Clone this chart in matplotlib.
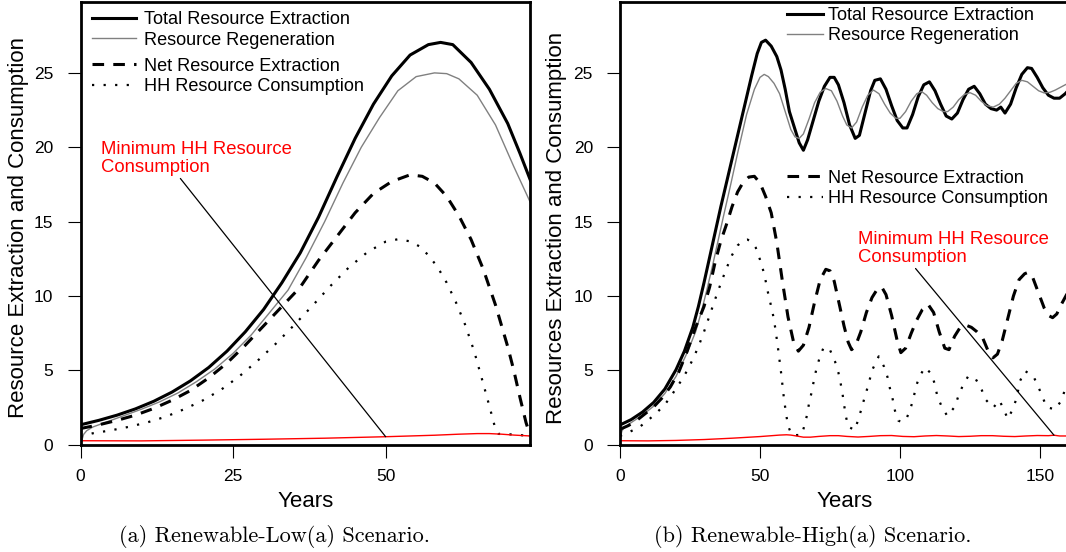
import matplotlib
matplotlib.use("Agg")
import matplotlib.pyplot as plt

# ==========================================================
# Data : Renewable-Low(a) scenario
# ==========================================================

low_total_x = [0, 3, 6, 9, 12, 15, 18, 21, 24, 27, 30, 33, 36, 39, 42, 45, 48, 51, 54, 57, 59, 61, 64, 67, 70, 72, 73.7]
low_total_y = [1.35, 1.65, 2.0, 2.42, 2.93, 3.55, 4.3, 5.2, 6.3, 7.6, 9.1, 10.9, 12.9, 15.3, 18.0, 20.6, 22.9, 24.8, 26.2, 26.9, 27.05, 26.9, 25.7, 23.9, 21.6, 19.6, 17.8]

low_regen_x = [0, 0.5, 1, 2, 4, 7, 10, 13, 16, 19, 22, 25, 28, 31, 34, 37, 40, 43, 46, 49, 52, 55, 58, 60, 62, 65, 68, 71, 73.7]
low_regen_y = [0.0, 0.7, 0.95, 1.2, 1.5, 1.95, 2.4, 2.9, 3.5, 4.25, 5.1, 6.15, 7.4, 8.9, 10.4, 12.6, 15.0, 17.6, 20.0, 22.0, 23.8, 24.75, 25.0, 24.95, 24.6, 23.5, 21.5, 18.7, 16.3]

low_net_x = [0, 3, 6, 9, 12, 15, 18, 21, 24, 27, 30, 33, 36, 39, 42, 45, 48, 51, 54, 56, 58, 60, 62, 64, 66, 68, 70, 71, 72, 73, 73.7]
low_net_y = [1.1, 1.35, 1.65, 2.0, 2.45, 3.0, 3.65, 4.5, 5.5, 6.7, 8.0, 9.3, 10.6, 12.4, 14.0, 15.6, 16.9, 17.7, 18.15, 18.05, 17.6, 16.7, 15.4, 13.8, 11.8, 9.4, 6.6, 5.0, 3.2, 1.5, 0.6]

low_hh_x = [0, 2, 5, 8, 11, 14, 17, 20, 23, 26, 29, 32, 35, 38, 41, 44, 47, 50, 52, 54, 55.5, 57, 58.5, 60, 61.5, 63, 64.5, 66, 67, 68, 68.5, 70, 72, 73.7]
low_hh_y = [0.55, 0.78, 0.98, 1.22, 1.52, 1.9, 2.4, 2.98, 3.7, 4.6, 5.65, 6.8, 8.05, 9.35, 10.7, 11.94, 12.95, 13.66, 13.82, 13.68, 13.35, 12.75, 11.95, 10.9, 9.6, 8.1, 6.3, 4.1, 2.6, 1.05, 0.74, 0.72, 0.66, 0.6]

low_min_x = [0, 10, 20, 30, 40, 50, 58, 62, 65, 67, 69, 71, 73.7]
low_min_y = [0.28, 0.27, 0.32, 0.38, 0.45, 0.55, 0.65, 0.72, 0.76, 0.76, 0.72, 0.66, 0.6]

# ==========================================================
# Data : Renewable-High(a) scenario
# ==========================================================

high_total_x = [0, 4, 8, 12, 16, 20, 23, 26, 28, 30, 32, 34, 36, 38, 41, 44, 47, 49, 50.5, 52, 54, 56, 57.5, 59, 60.5, 62, 64, 65.5,
                67, 69, 71, 73, 75, 76.5, 78, 80, 82, 84, 85.5, 87.5, 89.5, 91, 93, 95, 97, 99, 101, 102.5, 104.5, 106.5,
                108.5, 110.5, 112.5, 114.5, 116.5, 118.5, 120.5, 122.5, 124.5, 126.5, 128.5, 130.5, 132.5, 134.5, 136,
                137.5, 139.5, 141.5, 143.5, 145.5, 147, 149, 151, 153, 155, 157, 159, 161]
high_total_y = [1.34, 1.7, 2.2, 2.85, 3.75, 5.05, 6.3, 7.9, 9.3, 10.9, 12.6, 14.3, 16.0, 17.6, 20.0, 22.4, 24.8, 26.3, 27.05, 27.2,
                26.8, 26.1, 25.2, 23.9, 22.4, 21.5, 20.3, 19.8, 20.5, 21.8, 23.1, 24.1, 24.7, 24.7, 24.2, 23.0, 21.5, 20.6,
                20.8, 22.3, 23.8, 24.5, 24.6, 23.9, 22.8, 21.8, 21.3, 21.3, 22.2, 23.4, 24.2, 24.4, 23.8, 22.9, 22.1, 21.9,
                22.3, 23.2, 23.9, 24.1, 23.6, 22.9, 22.6, 22.5, 22.7, 22.3, 22.9, 24.0, 24.9, 25.35, 25.3, 24.7, 24.0, 23.5,
                23.3, 23.3, 23.6, 24.0]

high_regen_x = [0, 0.6, 1.2, 4, 8, 12, 16, 20, 24, 27, 29, 31, 33, 35, 37, 39.3, 42, 45.2, 48, 50, 51.5, 53, 55, 57, 59, 61,
                62.5, 64, 65.5, 67.5, 69.5, 71.5, 73.5, 75.5, 77.5, 79.5, 81, 82.7, 84.5, 86.5, 88.5, 90.5, 92.5, 94.5,
                96.5, 98.5, 100, 102, 104, 106, 107.7, 109.5, 111.5, 113.5, 115.5, 117, 119, 121, 123, 125, 127, 129,
                131, 133.3, 135.5, 137.5, 139.5, 141.5, 143.5, 145.5, 147.5, 149.5, 151.5, 153.6, 155.5, 157.5, 159.5, 161]
high_regen_y = [0.2, 0.9, 1.1, 1.5, 2.0, 2.6, 3.45, 4.6, 6.2, 7.6, 8.9, 10.4, 12.0, 13.7, 15.4, 17.3, 19.6, 22.2, 23.9, 24.7,
                24.9, 24.75, 24.3, 23.6, 22.4, 21.2, 20.7, 20.6, 20.9, 21.9, 23.0, 23.7, 23.95, 23.8, 23.1, 22.1, 21.5,
                21.3, 21.7, 22.7, 23.5, 23.85, 23.6, 22.9, 22.3, 21.95, 21.95, 22.4, 23.1, 23.6, 23.75, 23.5, 23.0, 22.6,
                22.4, 22.4, 22.7, 23.2, 23.55, 23.67, 23.5, 23.1, 22.8, 22.7, 22.9, 23.3, 23.8, 24.3, 24.5, 24.4, 24.1,
                23.8, 23.65, 23.7, 23.85, 24.05, 24.25, 24.4]

high_net_x = [0, 3, 6, 9, 12, 15, 18, 21, 24, 27, 30, 32, 34, 36, 38, 40, 42, 44, 46, 48, 50, 52, 54, 56, 58, 60, 62, 63.7,
              65.5, 67.5, 69.5, 71.5, 73.5, 75, 76.5, 78.5, 80, 81.5, 82.7, 84, 86, 88, 90, 92, 93.5, 95, 97, 99, 100.3,
              102, 104, 106, 108, 110, 112, 114, 116, 117.5, 119.5, 121.5, 123.5, 125.5, 127.5, 129.5, 131.5, 133.2,
              134.8, 136.5, 138.5, 140.5, 142.5, 144.5, 145.8, 147.5, 149.5, 151.5, 153, 154.5, 156, 157.5, 159.5, 161]
high_net_y = [1.05, 1.3, 1.65, 2.1, 2.55, 3.15, 3.9, 4.9, 6.3, 7.9, 9.3, 10.6, 12.3, 13.7, 14.8, 16.0, 17.0, 17.65, 18.0, 18.05,
              17.6, 16.7, 15.6, 13.6, 11.0, 8.6, 6.9, 6.3, 6.7, 7.9, 9.6, 11.1, 11.8, 11.7, 11.0, 9.3, 8.0, 6.9, 6.4, 6.6,
              7.6, 8.9, 9.9, 10.5, 10.6, 10.1, 8.7, 7.0, 6.2, 6.5, 7.5, 8.4, 9.1, 9.45, 8.9, 7.6, 6.5, 6.4, 7.3, 7.9, 8.05,
              7.9, 7.6, 7.2, 6.3, 5.85, 6.1, 7.0, 8.5, 10.0, 11.1, 11.5, 11.6, 11.2, 10.2, 9.2, 8.7, 8.55, 8.8, 9.4, 10.1,
              10.6]

high_hh_x = [0, 3.6, 7.1, 10.1, 13.1, 16.1, 18.5, 20, 22, 24, 26, 28, 30, 32, 34, 36, 38, 40, 42, 44, 45.5, 47, 48.5, 50,
             51.5, 53, 54.5, 55.5, 56.5, 57.5, 58.5, 59.3, 60, 61.3, 63, 64.9, 66.1, 66.9, 67.6, 68.5, 69.3, 70.2, 71.4,
             72.6, 73.5, 75, 76.8, 78, 78.8, 79.5, 80.1, 80.7, 81.5, 83.9, 85.1, 86.3, 87.5, 88.7, 90, 92.4, 94.3, 95.5,
             96.4, 97.4, 98.2, 99.4, 100.5, 102.1, 103.6, 104.8, 105.7, 106.9, 108.9, 111.3, 112.5, 113.3, 114.9, 116.9,
             119.6, 120.7, 122.4, 124.4, 127.1, 129.2, 130.7, 133.3, 135.5, 137, 138.5, 140, 141.5, 142.9, 144.6, 147.6,
             149.4, 152.4, 155.4, 157.8, 159, 161]
high_hh_y = [0.6, 0.89, 1.22, 1.67, 2.16, 2.73, 3.35, 3.8, 4.35, 5.0, 5.75, 6.6, 7.6, 8.7, 9.8, 10.85, 11.85, 12.75, 13.4,
             13.75, 13.8, 13.65, 13.25, 12.45, 11.5, 10.1, 8.9, 7.8, 6.4, 4.9, 3.2, 2.1, 1.3, 0.67, 0.66, 0.67, 1.45, 2.1,
             2.9, 3.58, 4.4, 5.15, 5.93, 6.49, 6.6, 6.38, 5.6, 4.86, 4.14, 3.4, 2.61, 1.9, 1.22, 1.0, 1.72, 2.46, 3.29,
             4.03, 5.0, 5.95, 5.26, 4.58, 3.8, 3.06, 2.3, 1.63, 1.55, 1.67, 2.35, 3.13, 3.91, 4.58, 5.21, 4.76, 4.03,
             3.29, 2.57, 1.94, 2.57, 3.2, 3.98, 4.63, 4.41, 3.69, 3.02, 2.5, 3.0, 2.4, 1.75, 2.3, 3.05, 4.31, 4.97, 4.63,
             3.91, 2.53, 2.39, 3.02, 3.8, 4.5]

high_min_x = [0, 10, 20, 30, 40, 50, 57, 59.5, 61, 63, 65.5, 68, 71, 75, 78, 81, 85, 89, 93, 97, 101, 105, 109, 113, 117,
              121, 125, 129, 133, 137, 141, 145, 149, 153, 155, 157, 161]
high_min_y = [0.28, 0.27, 0.3, 0.36, 0.45, 0.56, 0.66, 0.68, 0.66, 0.6, 0.52, 0.52, 0.57, 0.62, 0.62, 0.57, 0.53, 0.57, 0.62,
              0.63, 0.57, 0.55, 0.6, 0.63, 0.6, 0.56, 0.58, 0.62, 0.62, 0.58, 0.56, 0.6, 0.63, 0.62, 0.65, 0.6, 0.6]

# ==========================================================
# Labels
# ==========================================================

legend_top = ["Total Resource Extraction", "Resource Regeneration"]
legend_bottom = ["Net Resource Extraction", "HH Resource Consumption"]
min_label = "Minimum HH Resource\nConsumption"

plt.rcParams["font.family"] = ["Liberation Sans", "DejaVu Sans"]

W, H = 1066, 552
fig = plt.figure(figsize=(W / 100, H / 100), dpi=100)

Y_BOTTOM = 444.9
Y_TOP = 1.7
PX_PER_UNIT_Y = 14.88


def make_axes(left_px, right_px):
    return fig.add_axes([left_px / W, (H - Y_BOTTOM) / H,
                         (right_px - left_px) / W, (Y_BOTTOM - Y_TOP) / H])


TOTAL = dict(color="black", lw=2.2, solid_joinstyle="round")
REGEN = dict(color="#808080", lw=1.0)
NET = dict(color="black", lw=2.2, linestyle=(0, (3.8, 3.0)))
HH = dict(color="black", lw=1.6, linestyle=(0, (1, 4.2)))
MIN = dict(color="red", lw=1.0)


def draw_panel(ax, tx, ty, rx, ry, nx, ny, hx, hy, mx, my, xmax, xticks, ylabel):
    l_total, = ax.plot(tx, ty, **TOTAL)
    l_regen, = ax.plot(rx, ry, **REGEN)
    l_net, = ax.plot(nx, ny, **NET)
    l_hh, = ax.plot(hx, hy, **HH)
    ax.plot(mx, my, **MIN)

    ax.set_xlim(0, xmax)
    ax.set_ylim(0, (Y_BOTTOM - Y_TOP) / PX_PER_UNIT_Y)
    ax.set_xticks(xticks)
    ax.set_yticks([0, 5, 10, 15, 20, 25])

    for s in ax.spines.values():
        s.set_linewidth(2.0)
    ax.tick_params(axis="both", direction="out", length=9.5, width=0.8, labelsize=12.5)
    ax.tick_params(axis="y", pad=10)
    ax.tick_params(axis="x", pad=8)

    ax.set_xlabel("Years", fontsize=16)
    ax.set_ylabel(ylabel, fontsize=16)
    ax.xaxis.label.set_va("center")
    ax.yaxis.label.set_va("center")
    return l_total, l_regen, l_net, l_hh


leg_kw = dict(frameon=False, fontsize=13.1, borderpad=0, borderaxespad=0, labelspacing=0.185)
note_kw = dict(color="red", fontsize=13.3, ha="left", va="baseline", linespacing=1.07)

# ==========================================================
# Left panel
# ==========================================================

ax1 = make_axes(80.5, 530.3)
h1 = draw_panel(ax1, low_total_x, low_total_y, low_regen_x, low_regen_y, low_net_x, low_net_y,
                low_hh_x, low_hh_y, low_min_x, low_min_y, 73.7, [0, 25, 50],
                "Resource Extraction and Consumption")
ax1.xaxis.set_label_coords(0.5, -0.127)
ax1.yaxis.set_label_coords(-0.138, 0.49)

lg1 = ax1.legend(h1[:2], legend_top, loc="upper left", bbox_to_anchor=(0.0262, 0.978),
                 handlelength=2.42, handletextpad=0.42, **leg_kw)
ax1.add_artist(lg1)
ax1.legend(h1[2:], legend_bottom, loc="upper left", bbox_to_anchor=(0.0262, 0.874),
           handlelength=2.42, handletextpad=0.42, **leg_kw)

ax1.annotate(min_label, xy=(50, 0.55), xytext=(3.4, 18.36), **note_kw,
             arrowprops=dict(arrowstyle="-", color="black", lw=0.9, relpos=(0.403, 0),
                             shrinkA=0, shrinkB=0))

# ==========================================================
# Right panel
# ==========================================================

ax2 = make_axes(620, 1069.4)
h2 = draw_panel(ax2, high_total_x, high_total_y, high_regen_x, high_regen_y, high_net_x, high_net_y,
                high_hh_x, high_hh_y, high_min_x, high_min_y, 160.5, [0, 50, 100, 150],
                "Resources Extraction and Consumption")
ax2.xaxis.set_label_coords(0.5, -0.127)
ax2.yaxis.set_label_coords(-0.1415, 0.49)

lg2 = ax2.legend(h2[:2], legend_top, loc="upper left", bbox_to_anchor=(0.371, 0.988),
                 handlelength=2.0, handletextpad=0.27, **leg_kw)
ax2.add_artist(lg2)
ax2.legend(h2[2:], legend_bottom, loc="upper left", bbox_to_anchor=(0.371, 0.621),
           handlelength=2.0, handletextpad=0.27, **leg_kw)

ax2.annotate(min_label, xy=(155, 0.65), xytext=(85.1, 12.31), **note_kw,
             arrowprops=dict(arrowstyle="-", color="black", lw=0.9, relpos=(0.288, 0),
                             shrinkA=0, shrinkB=0))

# ==========================================================
# Sub-captions
# ==========================================================

fig.text(274.6 / W, 1 - 536 / H, "(a) Renewable-Low(a) Scenario.", family="cmr10",
         fontsize=16, ha="center", va="center")
fig.text(812.9 / W, 1 - 536 / H, "(b) Renewable-High(a) Scenario.", family="cmr10",
         fontsize=16, ha="center", va="center")

fig.savefig("out.png", dpi=100)
